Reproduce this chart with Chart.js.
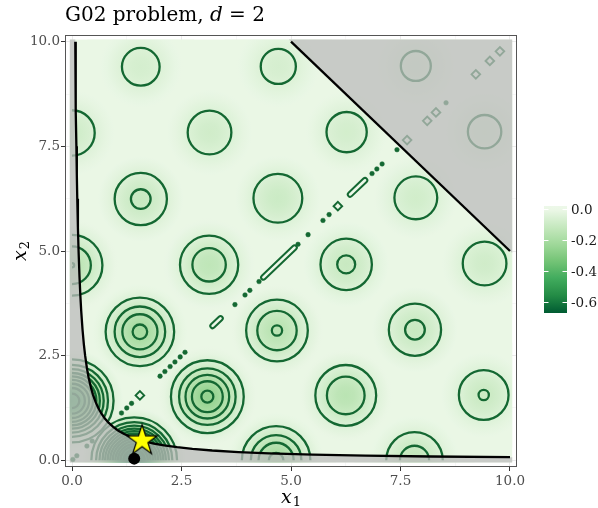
<!DOCTYPE html>
<html><head><meta charset="utf-8">
<script src="https://cdn.jsdelivr.net/npm/chart.js@4.4.1/dist/chart.umd.min.js"></script>
<style>html,body{margin:0;padding:0;background:#fff}</style>
</head><body>
<canvas id="c" width="598" height="508"></canvas>
<script>
// ---------------- data ----------------
const tickValues = [0, 2.5, 5, 7.5, 10];
const tickLabels = ['0.0', '2.5', '5.0', '7.5', '10.0'];
const minorTickValues = [1.25, 3.75, 6.25, 8.75];
const legendValues = [0, -0.2, -0.4, -0.6];
const legendLabels = ['0.0', '-0.2', '-0.4', '-0.6'];
const fMin = -0.6725, fMax = 0;

// local minima (blob centres), their depth and the contour rings around them
const blobX = [0, 0, 0, 1.42, 1.55, 1.57, 1.57, 3.09, 3.13, 3.14, 4.66, 4.68, 4.70, 4.71, 6.25, 6.26, 6.27, 7.82, 7.83, 7.85, 7.85, 9.40, 9.42, 9.42];
const blobY = [1.42, 4.66, 7.82, 0, 3.07, 6.24, 9.40, 1.52, 4.67, 7.83, 0, 3.10, 6.26, 9.41, 1.55, 4.68, 7.84, 0, 3.12, 6.27, 9.42, 1.56, 4.70, 7.85];
const blobDepth = [0.476, 0.151, 0.090, 0.672, 0.212, 0.111, 0.075, 0.260, 0.136, 0.087, 0.212, 0.154, 0.099, 0.071, 0.150, 0.109, 0.078, 0.127, 0.111, 0.084, 0.065, 0.103, 0.087, 0.069];
const ringRadii = [
  [0.97, 0.84, 0.74, 0.65, 0.57, 0.49, 0.40, 0.30, 0.17],
  [0.71, 0.44, 0.05],
  [0.53],
  [1.00, 0.89, 0.81, 0.74, 0.68, 0.62, 0.56, 0.50, 0.44, 0.38, 0.32, 0.245, 0.14],
  [0.80, 0.59, 0.41, 0.17],
  [0.61, 0.23],
  [0.44],
  [0.85, 0.66, 0.51, 0.36, 0.14],
  [0.68, 0.39],
  [0.51],
  [0.80, 0.59, 0.41, 0.17],
  [0.72, 0.46, 0.12],
  [0.57],
  [0.41],
  [0.71, 0.44],
  [0.60, 0.21],
  [0.47],
  [0.66, 0.34],
  [0.61, 0.23],
  [0.50],
  [0.35],
  [0.58, 0.12],
  [0.51],
  [0.39]
];
// shading fall-off of a minimum (distance, share of depth)
const profileRho = [0, 0.2, 0.4, 0.6, 0.8, 1.0, 1.2, 1.4];
const profileVal = [1, 0.923, 0.720, 0.464, 0.236, 0.085, 0.017, 0];

// tiny contour islands along x1 = x2
const diagDots = [0.02, 0.11, 0.34, 0.46, 1.13, 1.25, 1.36, 2.01, 2.12, 2.24, 2.35, 2.47, 2.58, 3.72, 3.95, 4.06, 4.27, 5.16, 5.39, 5.73, 5.87, 6.85, 6.96, 7.08, 7.42, 8.54];
const diagDiamonds = [1.55, 6.07, 7.65, 8.11, 8.31, 9.22, 9.54, 9.77];
const diagSlits = [[3.21, 3.39], [4.37, 5.08], [6.35, 6.69]];

// constraint boundary x1*x2 = 0.75
const curveX = [0.075, 0.08, 0.085, 0.09, 0.1, 0.11, 0.12, 0.135, 0.15, 0.17, 0.19, 0.21, 0.24, 0.27, 0.3, 0.34, 0.38, 0.43, 0.48, 0.54, 0.6, 0.67, 0.75, 0.84, 0.94, 1.05, 1.18, 1.32, 1.48, 1.66, 1.87, 2.1, 2.4, 2.75, 3.2, 3.8, 4.5, 5.5, 6.7, 8.2, 10];
const curveY = [10.0, 9.375, 8.824, 8.333, 7.5, 6.818, 6.25, 5.556, 5.0, 4.412, 3.947, 3.571, 3.125, 2.778, 2.5, 2.206, 1.974, 1.744, 1.563, 1.389, 1.25, 1.119, 1.0, 0.893, 0.798, 0.714, 0.636, 0.568, 0.507, 0.452, 0.401, 0.357, 0.313, 0.273, 0.234, 0.197, 0.167, 0.136, 0.112, 0.091, 0.075];
// constraint boundary x1 + x2 = 15
const lineX = [5, 10];
const lineY = [10, 5];
// extent of the evaluated grid
const gridMin = -0.05, gridMax = 10.05;

const optimum = [{x: 1.60, y: 0.47}];
const startPoint = [{x: 1.42, y: 0.04}];

// ---------------- styling helpers ----------------
const palette = ['#005a32', '#238b45', '#41ab5d', '#74c476', '#a1d99b', '#c7e9c0', '#edf8e9'];
const palRGB = palette.map(h => [parseInt(h.slice(1, 3), 16), parseInt(h.slice(3, 5), 16), parseInt(h.slice(5, 7), 16)]);
function fColor(f) {
  let t = (f - fMin) / (fMax - fMin);
  t = Math.max(0, Math.min(1, t));
  const p = t * 6, i = Math.min(5, Math.floor(p)), u = p - i;
  const a = palRGB[i], b = palRGB[i + 1];
  return 'rgb(' + [0, 1, 2].map(k => Math.round(a[k] + (b[k] - a[k]) * u)).join(',') + ')';
}
const SERIF = '"DejaVu Serif", serif';
const GREEN = 'rgb(20,104,50)';
const GREY = 'rgba(188,188,188,0.75)';

function ppu(ch) {
  const sx = ch.scales && ch.scales.x, sy = ch.scales && ch.scales.y;
  if (!sx || !sy) return NaN;
  return ((sx.getPixelForValue(1) - sx.getPixelForValue(0)) + (sy.getPixelForValue(0) - sy.getPixelForValue(1))) / 2;
}
function makeStar(R) {
  const c = document.createElement('canvas');
  const s = Math.ceil(2 * R + 4);
  c.width = s; c.height = s;
  const g = c.getContext('2d');
  const cx = s / 2, cy = s / 2, r = R * 0.382;
  g.beginPath();
  for (let k = 0; k < 10; k++) {
    const a = -Math.PI / 2 + k * Math.PI / 5;
    const rr = k % 2 ? r : R;
    g.lineTo(cx + rr * Math.cos(a), cy + rr * Math.sin(a));
  }
  g.closePath();
  g.fillStyle = '#ffff00'; g.fill();
  g.lineWidth = 1.2; g.strokeStyle = '#000'; g.stroke();
  return c;
}

// ---------------- datasets ----------------
const heatData = blobX.map((x, i) => ({x, y: blobY[i]}));
const ringData = [];
blobX.forEach((x, i) => ringRadii[i].forEach(r => ringData.push({x, y: blobY[i], r})));
const curveData = curveX.map((x, i) => ({x, y: curveY[i]}));
const lineData = lineX.map((x, i) => ({x, y: lineY[i]}));
const blPoly = [{x: gridMin, y: gridMax}, {x: curveX[0], y: gridMax}]
  .concat(curveData)
  .concat([{x: gridMax, y: curveY[curveY.length - 1]}, {x: gridMax, y: gridMin}, {x: gridMin, y: gridMin}]);
const trPoly = [{x: lineX[0] - 0.05, y: gridMax}, {x: gridMax, y: gridMax}, {x: gridMax, y: lineY[1] - 0.05}];

const datasets = [
  {type: 'scatter', data: optimum, order: 0, pointStyle: makeStar(16), pointRadius: 16},
  {type: 'scatter', data: startPoint, order: 1, pointRadius: 6, pointBackgroundColor: '#000', pointBorderColor: '#000', pointBorderWidth: 0},
  {type: 'line', data: curveData, order: 2, borderColor: '#000', borderWidth: 2.3, pointRadius: 0, fill: false, tension: 0},
  {type: 'line', data: lineData, order: 2, borderColor: '#000', borderWidth: 2.3, pointRadius: 0, fill: false},
  {type: 'line', data: blPoly, order: 3, borderColor: 'rgba(0,0,0,0)', borderWidth: 0, pointRadius: 0, fill: 'shape', backgroundColor: GREY},
  {type: 'line', data: trPoly, order: 3, borderColor: 'rgba(0,0,0,0)', borderWidth: 0, pointRadius: 0, fill: 'shape', backgroundColor: GREY},
];
diagSlits.forEach(s => {
  const d = [{x: s[0], y: s[0]}, {x: s[1], y: s[1]}];
  datasets.push({type: 'line', data: d, order: 4, borderColor: fColor(0), borderWidth: 2.6, borderCapStyle: 'round', pointRadius: 0, fill: false});
  datasets.push({type: 'line', data: d, order: 5, borderColor: GREEN, borderWidth: 6.6, borderCapStyle: 'round', pointRadius: 0, fill: false});
});
datasets.push({type: 'scatter', data: diagDots.map(v => ({x: v, y: v})), order: 5, pointRadius: 2.3,
  pointBackgroundColor: GREEN, pointBorderColor: GREEN, pointBorderWidth: 0.5});
datasets.push({type: 'scatter', data: diagDiamonds.map(v => ({x: v, y: v})), order: 5, pointStyle: 'rectRot',
  pointRadius: 4.3, pointBackgroundColor: 'rgba(0,0,0,0)', pointBorderColor: GREEN, pointBorderWidth: 1.9});
datasets.push({type: 'scatter', data: ringData, order: 6, clipBox: [0, 10],
  pointRadius: c => {
    const k = ppu(c.chart);
    return (c.raw && c.raw.r && isFinite(k)) ? c.raw.r * k : 0;
  },
  pointBackgroundColor: 'rgba(0,0,0,0)', pointBorderColor: GREEN, pointBorderWidth: 2.3});
datasets.push({type: 'scatter', data: heatData, order: 7, clipBox: [gridMin, gridMax], composite: 'darken',
  pointRadius: c => { const k = ppu(c.chart); return isFinite(k) ? profileRho[profileRho.length - 1] * k : 0; },
  pointBorderWidth: 0,
  pointBackgroundColor: c => {
    const ch = c.chart;
    if (c.type !== 'data' || !ch.scales || !ch.scales.x) return 'rgba(0,0,0,0)';
    const i = c.dataIndex;
    const cx = ch.scales.x.getPixelForValue(blobX[i]);
    const cy = ch.scales.y.getPixelForValue(blobY[i]);
    const reach = profileRho[profileRho.length - 1];
    const R = reach * ppu(ch);
    if (![cx, cy, R].every(Number.isFinite) || R <= 0) return 'rgba(0,0,0,0)';
    const g = ch.ctx.createRadialGradient(cx, cy, 0, cx, cy, R);
    profileRho.forEach((rho, k) => g.addColorStop(rho / reach, fColor(-blobDepth[i] * profileVal[k])));
    return g;
  }});

// ---------------- decorations ----------------
const allTicks = tickValues.concat(minorTickValues).sort((a, b) => a - b);
const isMajor = v => tickValues.some(t => Math.abs(t - v) < 1e-9);

const decor = {
  id: 'decor',
  beforeDatasetsDraw(ch) {
    const {ctx} = ch, sx = ch.scales.x, sy = ch.scales.y;
    const x0 = sx.getPixelForValue(gridMin), x1 = sx.getPixelForValue(gridMax);
    const y0 = sy.getPixelForValue(gridMax), y1 = sy.getPixelForValue(gridMin);
    ctx.save(); ctx.fillStyle = fColor(-0.01); ctx.fillRect(x0, y0, x1 - x0, y1 - y0); ctx.restore();
  },
  beforeDatasetDraw(ch, args) {
    const ds = ch.data.datasets[args.index];
    if (!ds.clipBox) return;
    const {ctx} = ch, sx = ch.scales.x, sy = ch.scales.y;
    const x0 = sx.getPixelForValue(ds.clipBox[0]), x1 = sx.getPixelForValue(ds.clipBox[1]);
    const y0 = sy.getPixelForValue(ds.clipBox[1]), y1 = sy.getPixelForValue(ds.clipBox[0]);
    ctx.save();
    ctx.beginPath(); ctx.rect(x0, y0, x1 - x0, y1 - y0); ctx.clip();
    if (ds.composite) ctx.globalCompositeOperation = ds.composite;
  },
  afterDatasetDraw(ch, args) {
    const ds = ch.data.datasets[args.index];
    if (ds.clipBox) ch.ctx.restore();
  },
  afterDraw(ch) {
    const {ctx, chartArea: a} = ch;
    ctx.save();
    // panel border
    ctx.strokeStyle = '#555'; ctx.lineWidth = 1;
    ctx.strokeRect(a.left + 0.5, a.top + 0.5, a.right - a.left - 1, a.bottom - a.top - 1);
    // colour bar
    const cbL = 544, cbT = 206, cbW = 23, cbH = 107, topV = 0.019, botV = -0.671;
    const grad = ctx.createLinearGradient(0, cbT, 0, cbT + cbH);
    for (let k = 0; k <= 24; k++) { const t = k / 24; grad.addColorStop(t, fColor(topV + (botV - topV) * t)); }
    ctx.fillStyle = grad; ctx.fillRect(cbL, cbT, cbW, cbH);
    ctx.strokeStyle = '#fff'; ctx.lineWidth = 1;
    ctx.font = '13.5px ' + SERIF; ctx.fillStyle = '#1a1a1a'; ctx.textBaseline = 'middle'; ctx.textAlign = 'left';
    legendValues.forEach((v, k) => {
      const y = Math.round(cbT + (topV - v) / (topV - botV) * cbH) + 0.5;
      ctx.beginPath(); ctx.moveTo(cbL, y); ctx.lineTo(cbL + 4.5, y); ctx.moveTo(cbL + cbW - 4.5, y); ctx.lineTo(cbL + cbW, y); ctx.stroke();
      ctx.fillText(legendLabels[k], 571, y + 0.5);
    });
    // title
    ctx.fillStyle = '#000'; ctx.textBaseline = 'alphabetic';
    let x = 65;
    const parts = [['G02 problem, ', ''], ['d', 'italic '], [' = 2', '']];
    parts.forEach(p => { ctx.font = p[1] + '20px ' + SERIF; ctx.fillText(p[0], x, 21); x += ctx.measureText(p[0]).width; });
    // axis titles
    const drawSub = (base, sub, cx, by) => {
      ctx.font = 'italic 19px ' + SERIF; const wb = ctx.measureText(base).width;
      ctx.font = '13px ' + SERIF; const ws = ctx.measureText(sub).width;
      const sx0 = cx - (wb + ws + 1) / 2;
      ctx.font = 'italic 19px ' + SERIF; ctx.fillText(base, sx0, by);
      ctx.font = '13px ' + SERIF; ctx.fillText(sub, sx0 + wb + 1, by + 3);
    };
    ctx.fillStyle = '#000';
    drawSub('x', '1', (a.left + a.right) / 2, 503);
    ctx.translate(26, (a.top + a.bottom) / 2); ctx.rotate(-Math.PI / 2);
    drawSub('x', '2', 0, 0);
    ctx.restore();
  }
};

const axisCommon = (fitProp, fitVal) => ({
  type: 'linear', min: -0.16, max: 10.16,
  afterBuildTicks: s => { s.ticks = allTicks.map(v => ({value: v})); },
  afterFit: s => { s[fitProp] = fitVal; },
  border: {display: false},
  grid: {
    color: c => (c.tick && isMajor(c.tick.value) ? '#ebebeb' : '#f2f2f2'),
    lineWidth: c => (c.tick && isMajor(c.tick.value) ? 1 : 0.6),
    tickColor: c => (c.tick && isMajor(c.tick.value) ? '#333333' : 'rgba(0,0,0,0)'),
    tickLength: 4, drawTicks: true
  },
  ticks: {
    autoSkip: false, maxRotation: 0, minRotation: 0, padding: fitProp === 'height' ? 2 : 1,
    color: '#4d4d4d', font: {family: SERIF, size: 13.5},
    callback: v => { const i = tickValues.findIndex(t => Math.abs(t - v) < 1e-9); return i >= 0 ? tickLabels[i] : ''; }
  }
});

new Chart(document.getElementById('c'), {
  type: 'scatter',
  data: {datasets},
  options: {
    responsive: false, animation: false, events: [], devicePixelRatio: 1,
    layout: {padding: {left: 0, top: 35, right: 81, bottom: 0}},
    plugins: {legend: {display: false}, tooltip: {enabled: false}, title: {display: false}},
    scales: {x: axisCommon('height', 41), y: axisCommon('width', 65)}
  },
  plugins: [decor]
});
</script>
</body></html>
